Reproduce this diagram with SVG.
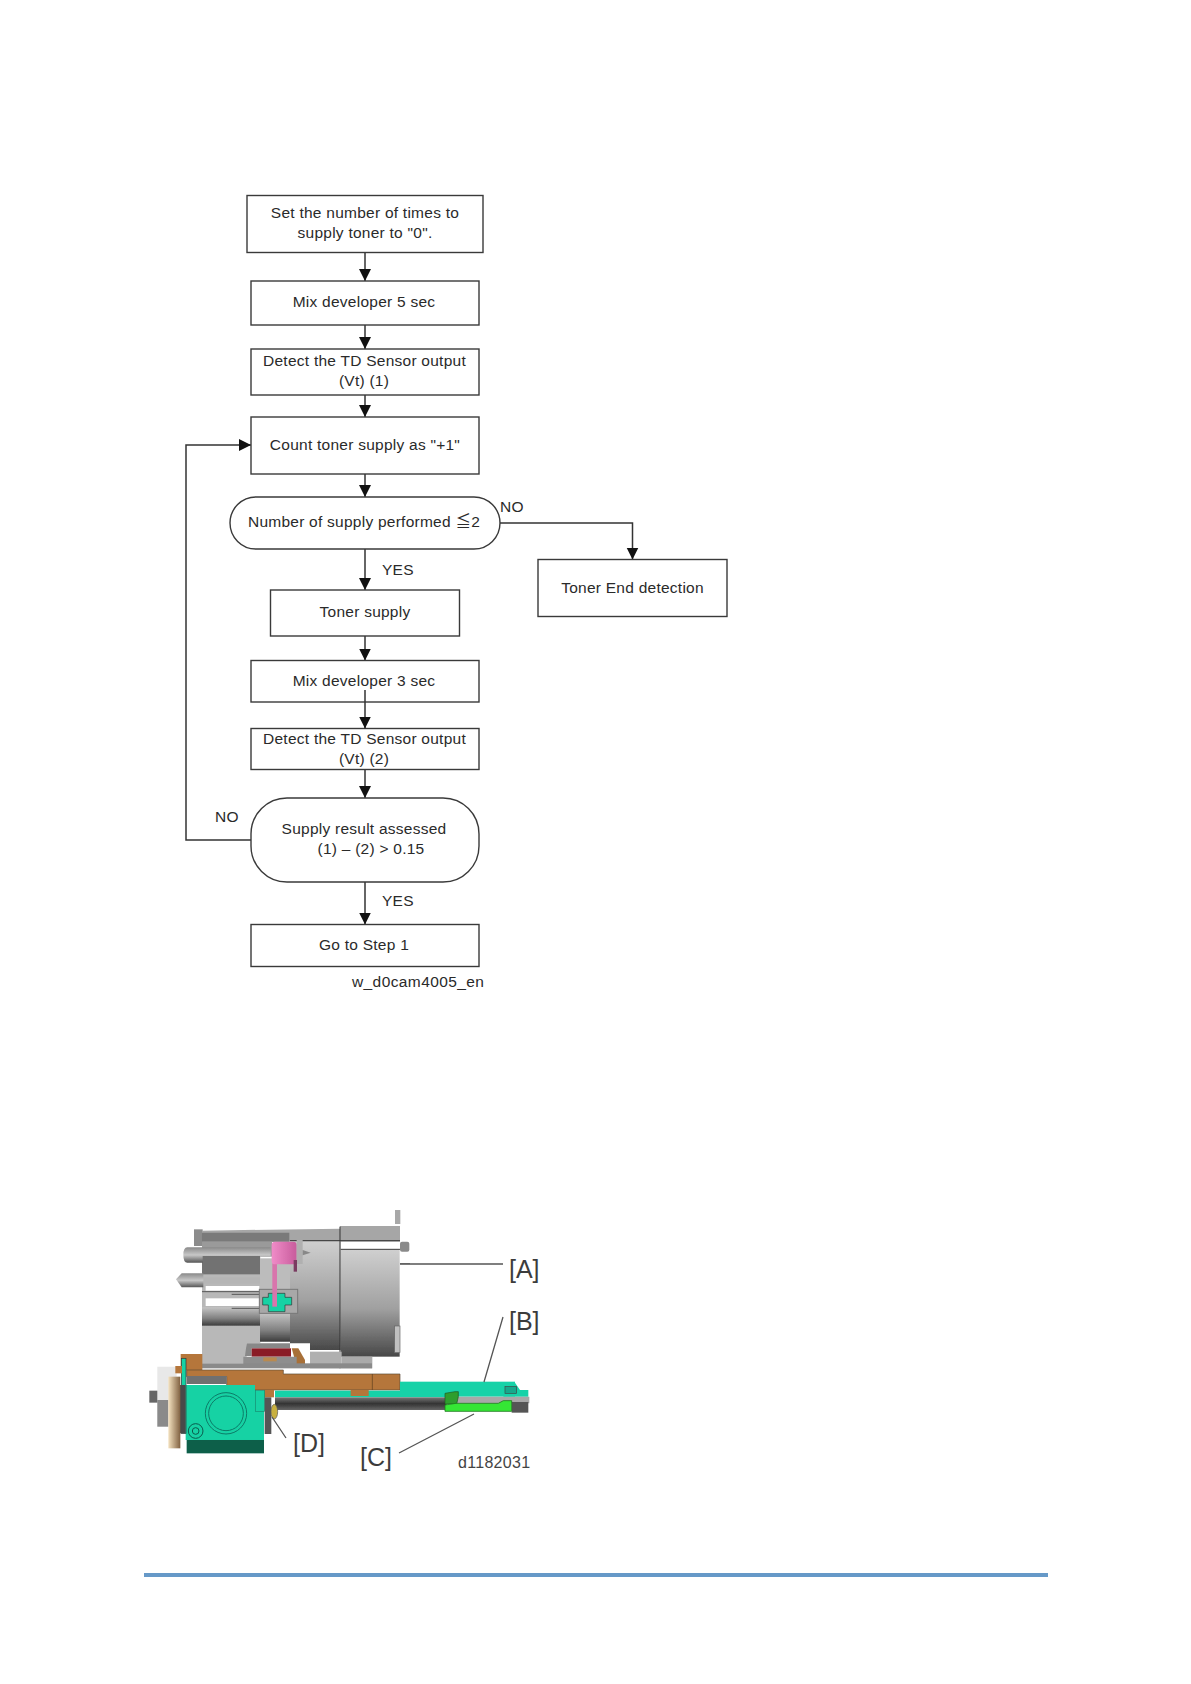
<svg xmlns="http://www.w3.org/2000/svg" width="1191" height="1684" viewBox="0 0 1191 1684">
<style>
.n{fill:#fff;stroke:#3a3a3a;stroke-width:1.4}
.t{font-family:"Liberation Sans","Noto Sans CJK JP",sans-serif;font-size:15.5px;fill:#2a2a2a;text-anchor:middle;letter-spacing:.25px}
.l{text-anchor:start}
.c{fill:none;stroke:#333;stroke-width:1.5}
.big{font-family:"Liberation Sans",sans-serif;font-size:25px;fill:#3c3c3c}
.lead{fill:none;stroke:#555;stroke-width:1.3}
</style>
<defs>
<marker id="a" markerUnits="userSpaceOnUse" markerWidth="13" markerHeight="13" refX="12" refY="6.500" orient="auto"><path d="M0 .5L12 6.500L0 12.500Z" fill="#111"/></marker>
<linearGradient id="g1" x1="0" y1="0" x2="0" y2="1"><stop offset="0" stop-color="#cfcfcf"/><stop offset=".55" stop-color="#a0a0a0"/><stop offset="1" stop-color="#484848"/></linearGradient>
<linearGradient id="g2" x1="0" y1="0" x2="0" y2="1"><stop offset="0" stop-color="#8a8a8a"/><stop offset=".5" stop-color="#c8c8c8"/><stop offset="1" stop-color="#555"/></linearGradient>
<linearGradient id="g3" x1="0" y1="0" x2="0" y2="1"><stop offset="0" stop-color="#c4c4c4"/><stop offset=".6" stop-color="#808080"/><stop offset="1" stop-color="#3c3c3c"/></linearGradient>
<linearGradient id="s" x1="0" y1="0" x2="0" y2="1"><stop offset="0" stop-color="#777"/><stop offset=".5" stop-color="#333"/><stop offset="1" stop-color="#666"/></linearGradient>
<linearGradient id="p" x1="0" y1="0" x2="1" y2="0"><stop offset="0" stop-color="#f08cc8"/><stop offset="1" stop-color="#c85c9c"/></linearGradient>
<linearGradient id="d" x1="0" y1="0" x2="1" y2="0"><stop offset="0" stop-color="#f4e2c0"/><stop offset="1" stop-color="#806040"/></linearGradient>
<filter id="b" x="-2%" y="-2%" width="104%" height="104%"><feGaussianBlur stdDeviation="1.500"/></filter>
</defs>

<g id="connectors">
<path class="c" d="M365 252.500V281" marker-end="url(#a)"/>
<path class="c" d="M365 325V349" marker-end="url(#a)"/>
<path class="c" d="M365 395V417" marker-end="url(#a)"/>
<path class="c" d="M365 474V497" marker-end="url(#a)"/>
<path class="c" d="M365 549V590" marker-end="url(#a)"/>
<path class="c" d="M500 523H632.500V559.500" marker-end="url(#a)"/>
<path class="c" d="M365 636V660.500" marker-end="url(#a)"/>
<path class="c" d="M365 770V798" marker-end="url(#a)"/>
<path class="c" d="M365 882V924.500" marker-end="url(#a)"/>
<path class="c" d="M251 840H186V445H251" marker-end="url(#a)"/>
</g>

<g id="n1"><rect class="n" x="247" y="195.500" width="236" height="57"/><text class="t" x="365" y="218">Set the number of times to</text><text class="t" x="365" y="238">supply toner to "0".</text></g>
<g id="n2"><rect class="n" x="251" y="281" width="228" height="44"/><text class="t" x="364" y="307">Mix developer 5 sec</text></g>
<g id="n3"><rect class="n" x="251" y="349" width="228" height="46"/><text class="t" x="364.500" y="366">Detect the TD Sensor output</text><text class="t" x="364" y="386">(Vt) (1)</text></g>
<g id="n4"><rect class="n" x="251" y="417" width="228" height="57"/><text class="t" x="365" y="450">Count toner supply as "+1"</text></g>
<g id="n5"><rect class="n" x="230" y="497" width="270" height="52" rx="26"/><text class="t" x="364" y="527">Number of supply performed ≦2</text></g>
<g id="n6"><rect class="n" x="270.500" y="590" width="189" height="46"/><text class="t" x="365" y="617">Toner supply</text></g>
<g id="n7"><rect class="n" x="538" y="559.500" width="189" height="57"/><text class="t" x="632.500" y="593">Toner End detection</text></g>
<g id="n8"><rect class="n" x="251" y="660.500" width="228" height="41.500"/><text class="t" x="364" y="686">Mix developer 3 sec</text></g>
<g id="n9"><rect class="n" x="251" y="728.500" width="228" height="41"/><text class="t" x="364.500" y="744">Detect the TD Sensor output</text><text class="t" x="364" y="764">(Vt) (2)</text></g>
<g id="n10"><rect class="n" x="251" y="798" width="228" height="84" rx="36"/><text class="t" x="364" y="834">Supply result assessed</text><text class="t" x="371" y="854">(1) – (2) &gt; 0.15</text></g>
<g id="n11"><rect class="n" x="251" y="924.500" width="228" height="42"/><text class="t" x="364" y="950">Go to Step 1</text></g>
<path class="c" d="M365 690V728.500" marker-end="url(#a)"/>

<g id="labels">
<text class="t l" x="500" y="512">NO</text>
<text class="t l" x="382" y="575">YES</text>
<text class="t l" x="215" y="822">NO</text>
<text class="t l" x="382" y="906">YES</text>
<text class="t l" x="352" y="987" style="letter-spacing:.4px">w_d0cam4005_en</text>
</g>

<g id="figure" transform="translate(140 1200) scale(.33333)" filter="url(#b)">
<rect x="765" y="30" width="16" height="42" fill="#a8a8a8"/>
<rect x="162" y="88" width="26" height="50" fill="#8c8c8c"/>
<path d="M186 92L600 86V78H780V125H186Z" fill="#a6a6a6"/>
<path d="M186 98H448V125H186Z" fill="#7a7a7a"/>
<rect x="186" y="125" width="210" height="45" fill="#9a9a9a"/>
<rect x="186" y="165" width="175" height="325" fill="#b8b8b8"/>
<rect x="186" y="168" width="174" height="55" fill="#727272"/>
<rect x="186" y="232" width="174" height="18" fill="#b5b5b5"/>
<rect x="186" y="322" width="174" height="55" fill="url(#g3)"/>
<rect x="197" y="258" width="161" height="14" fill="#fff"/>
<rect x="197" y="295" width="161" height="23" fill="#fff"/>
<path d="M186 275H360M275 283H360M275 325H360" stroke="#555" stroke-width="3" fill="none"/>
<rect x="360" y="175" width="90" height="250" fill="#bcbcbc"/>
<rect x="360" y="340" width="90" height="85" fill="url(#g3)"/>
<rect x="450" y="125" width="152" height="325" fill="url(#g1)"/>
<rect x="602" y="150" width="177" height="320" fill="url(#g1)"/>
<path d="M450 122H780M602 148H780M600 80V505" stroke="#333" stroke-width="3" fill="none"/>
<rect x="780" y="125" width="28" height="30" rx="6" fill="#8a8a8a"/>
<path d="M780 191H810" stroke="#777" stroke-width="3"/>
<rect x="764" y="378" width="16" height="80" fill="#c0c0c0" stroke="#666" stroke-width="2"/>
<path d="M142 142H392V168H188V188H142Q130 188 130 165Q130 142 142 142Z" fill="url(#g2)"/>
<path d="M108 238L125 220H190V262H125Z" fill="url(#g2)"/>
<rect x="358" y="268" width="115" height="72" fill="#a8a8a8" stroke="#777" stroke-width="3"/>
<path d="M368 292H385V280H435V292H455V315H435V335H385V315H368Z" fill="#14d2a4" stroke="#333" stroke-width="2"/>
<rect x="397" y="190" width="14" height="130" fill="#d874ac"/>
<rect x="395" y="125" width="75" height="68" rx="10" fill="url(#p)"/>
<rect x="470" y="120" width="18" height="72" fill="#b0b0b0"/>
<path d="M488 150L512 158L488 166Z" fill="#888"/>
<rect x="461" y="180" width="10" height="35" fill="#7a3a60"/>
<path d="M320 430H510V490H320Z" fill="#fff"/>
<rect x="510" y="455" width="95" height="50" fill="#b0b0b0"/>
<rect x="605" y="470" width="92" height="35" fill="#aaa"/>
<path d="M320 430H450V445H335V468H315Z" fill="#888"/>
<rect x="335" y="445" width="118" height="25" fill="#8a1c28"/>
<path d="M455 445H475L495 480V498H470Z" fill="#a87038"/>
<path d="M310 470H470V500H310Z" fill="#8e8e8e"/>
<rect x="370" y="472" width="40" height="12" fill="#b98a50"/>
<rect x="186" y="490" width="510" height="15" fill="#8a8a8a"/>
<rect x="122" y="462" width="65" height="48" fill="#b5763a"/>
<path d="M140 510H430V522H780V570H260V530H140Z" fill="#b5763a" stroke="#5a4a38" stroke-width="2"/>
<path d="M697 522V570" stroke="#5a4020" stroke-width="2"/>
<rect x="780" y="545" width="345" height="45" fill="#14d2a8"/>
<path d="M1125 548L1140 570H1165V590H1090V548Z" fill="#14d2a8"/>
<rect x="1095" y="560" width="35" height="20" fill="#17a88c" stroke="#444" stroke-width="2"/>
<rect x="405" y="572" width="510" height="20" fill="#14d2a8"/>
<rect x="632" y="570" width="54" height="18" fill="#b5763a"/>
<rect x="372" y="570" width="30" height="22" fill="#b5763a"/>
<rect x="405" y="592" width="515" height="38" fill="url(#s)"/>
<path d="M950 590H1168V610H950Z" fill="#a8a8a8"/>
<rect x="1115" y="606" width="50" height="32" fill="#555"/>
<path d="M915 580L945 575H955V590L950 612L915 612Z" fill="#2e9e2e" stroke="#225522" stroke-width="2"/>
<path d="M915 615L948 610H1075L1090 602H1115V634H915Z" fill="#35e635" stroke="#1f7a1f" stroke-width="2.500"/>
<path d="M140 528H260V552H140Z" fill="#707070"/>
<path d="M137 555H345V572H372V720H137Z" fill="#14d2a4"/>
<rect x="346" y="572" width="28" height="62" fill="#14d2a4" stroke="#148a70" stroke-width="2"/>
<rect x="140" y="720" width="232" height="40" fill="#0b5e4a"/>
<circle cx="258" cy="640" r="62" fill="none" stroke="#0f7a66" stroke-width="3"/>
<circle cx="258" cy="640" r="52" fill="none" stroke="#0f7a66" stroke-width="3"/>
<circle cx="167" cy="693" r="22" fill="#14d2a4" stroke="#0f5a4c" stroke-width="3"/>
<circle cx="167" cy="693" r="10" fill="none" stroke="#0f5a4c" stroke-width="3"/>
<rect x="124" y="475" width="14" height="225" fill="#14d2a4" stroke="#333" stroke-width="2"/>
<path d="M118 555H137V700H118Z" fill="#4a4a4a"/>
<path d="M52 500H110V680H52Z" fill="#e8e8e8"/>
<path d="M52 600H85V680H52Z" fill="#8a8a8a"/>
<rect x="85" y="530" width="36" height="215" fill="url(#d)"/>
<rect x="28" y="572" width="24" height="36" fill="#666"/>
<rect x="106" y="498" width="20" height="22" fill="#b5763a"/>
<rect x="374" y="592" width="20" height="110" fill="#555"/>
<ellipse cx="403" cy="635" rx="10" ry="22" fill="#c8b040" stroke="#555" stroke-width="2"/>
</g>

<g id="figure-labels">
<path class="lead" d="M400 1264H503M503 1317L484 1382M399 1453L474 1414M272 1417L286 1438"/>
<text class="big" x="509" y="1278">[A]</text>
<text class="big" x="509" y="1330">[B]</text>
<text class="big" x="360" y="1466">[C]</text>
<text class="big" x="293" y="1452">[D]</text>
<text x="458" y="1468" style="font-family:'Liberation Sans',sans-serif;font-size:16px;letter-spacing:.3px;fill:#444">d1182031</text>
</g>

<rect id="rule" x="144" y="1573" width="904" height="4" fill="#6699c8"/>
</svg>
